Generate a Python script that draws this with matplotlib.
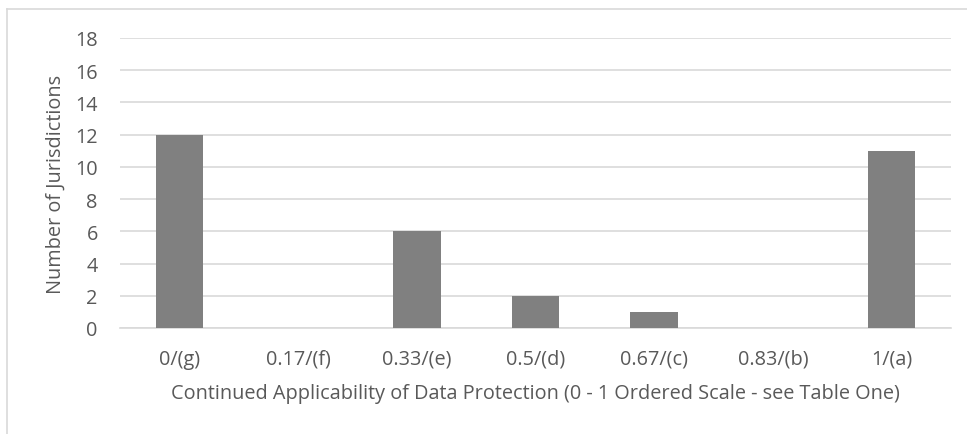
import matplotlib.pyplot as plt
from matplotlib.lines import Line2D

categories = ['0/(g)', '0.17/(f)', '0.33/(e)', '0.5/(d)', '0.67/(c)', '0.83/(b)', '1/(a)']
counts = [12, 0, 6, 2, 1, 0, 11]
y_ticks = list(range(0, 20, 2))

plt.rcParams['font.family'] = ['Open Sans', 'DejaVu Sans']
fs = 14.3

fig = plt.figure(figsize=(9.67, 4.35), dpi=100)
ax = fig.add_axes([120 / 967, 1 - 329 / 435, (951 - 120) / 967, (329 - 39) / 435])

x = range(len(categories))
ax.bar(x, counts, width=0.4, color='#808080', zorder=3)

ax.set_xlim(-0.5, len(categories) - 0.5)
ax.set_ylim(0, 18)
ax.set_yticks(y_ticks)
ax.set_xticks(list(x))
ax.set_xticklabels(categories)
ax.grid(axis='y', color='#d9d9d9', linewidth=1.2, zorder=0)
for s in ['top', 'right', 'left']:
    ax.spines[s].set_visible(False)
ax.spines['bottom'].set_color('#d9d9d9')
ax.spines['bottom'].set_linewidth(1.2)
ax.tick_params(length=0, labelsize=fs, colors='#595959')
ax.tick_params(axis='x', pad=15)
ax.tick_params(axis='y', pad=16)

ax.set_xlabel('Continued Applicability of Data Protection (0 - 1 Ordered Scale - see Table One)',
              fontsize=fs, color='#595959', labelpad=10)
ax.set_ylabel('Number of Jurisdictions', fontsize=fs, color='#595959', labelpad=7)

# chart area border (left and top visible)
fig.add_artist(Line2D([7 / 967, 7 / 967], [0, 1 - 10 / 435], transform=fig.transFigure,
                      color='#d9d9d9', linewidth=1.2))
fig.add_artist(Line2D([7 / 967, 1], [1 - 10 / 435, 1 - 10 / 435], transform=fig.transFigure,
                      color='#d9d9d9', linewidth=1.2))

fig.savefig('out.png', dpi=100)
